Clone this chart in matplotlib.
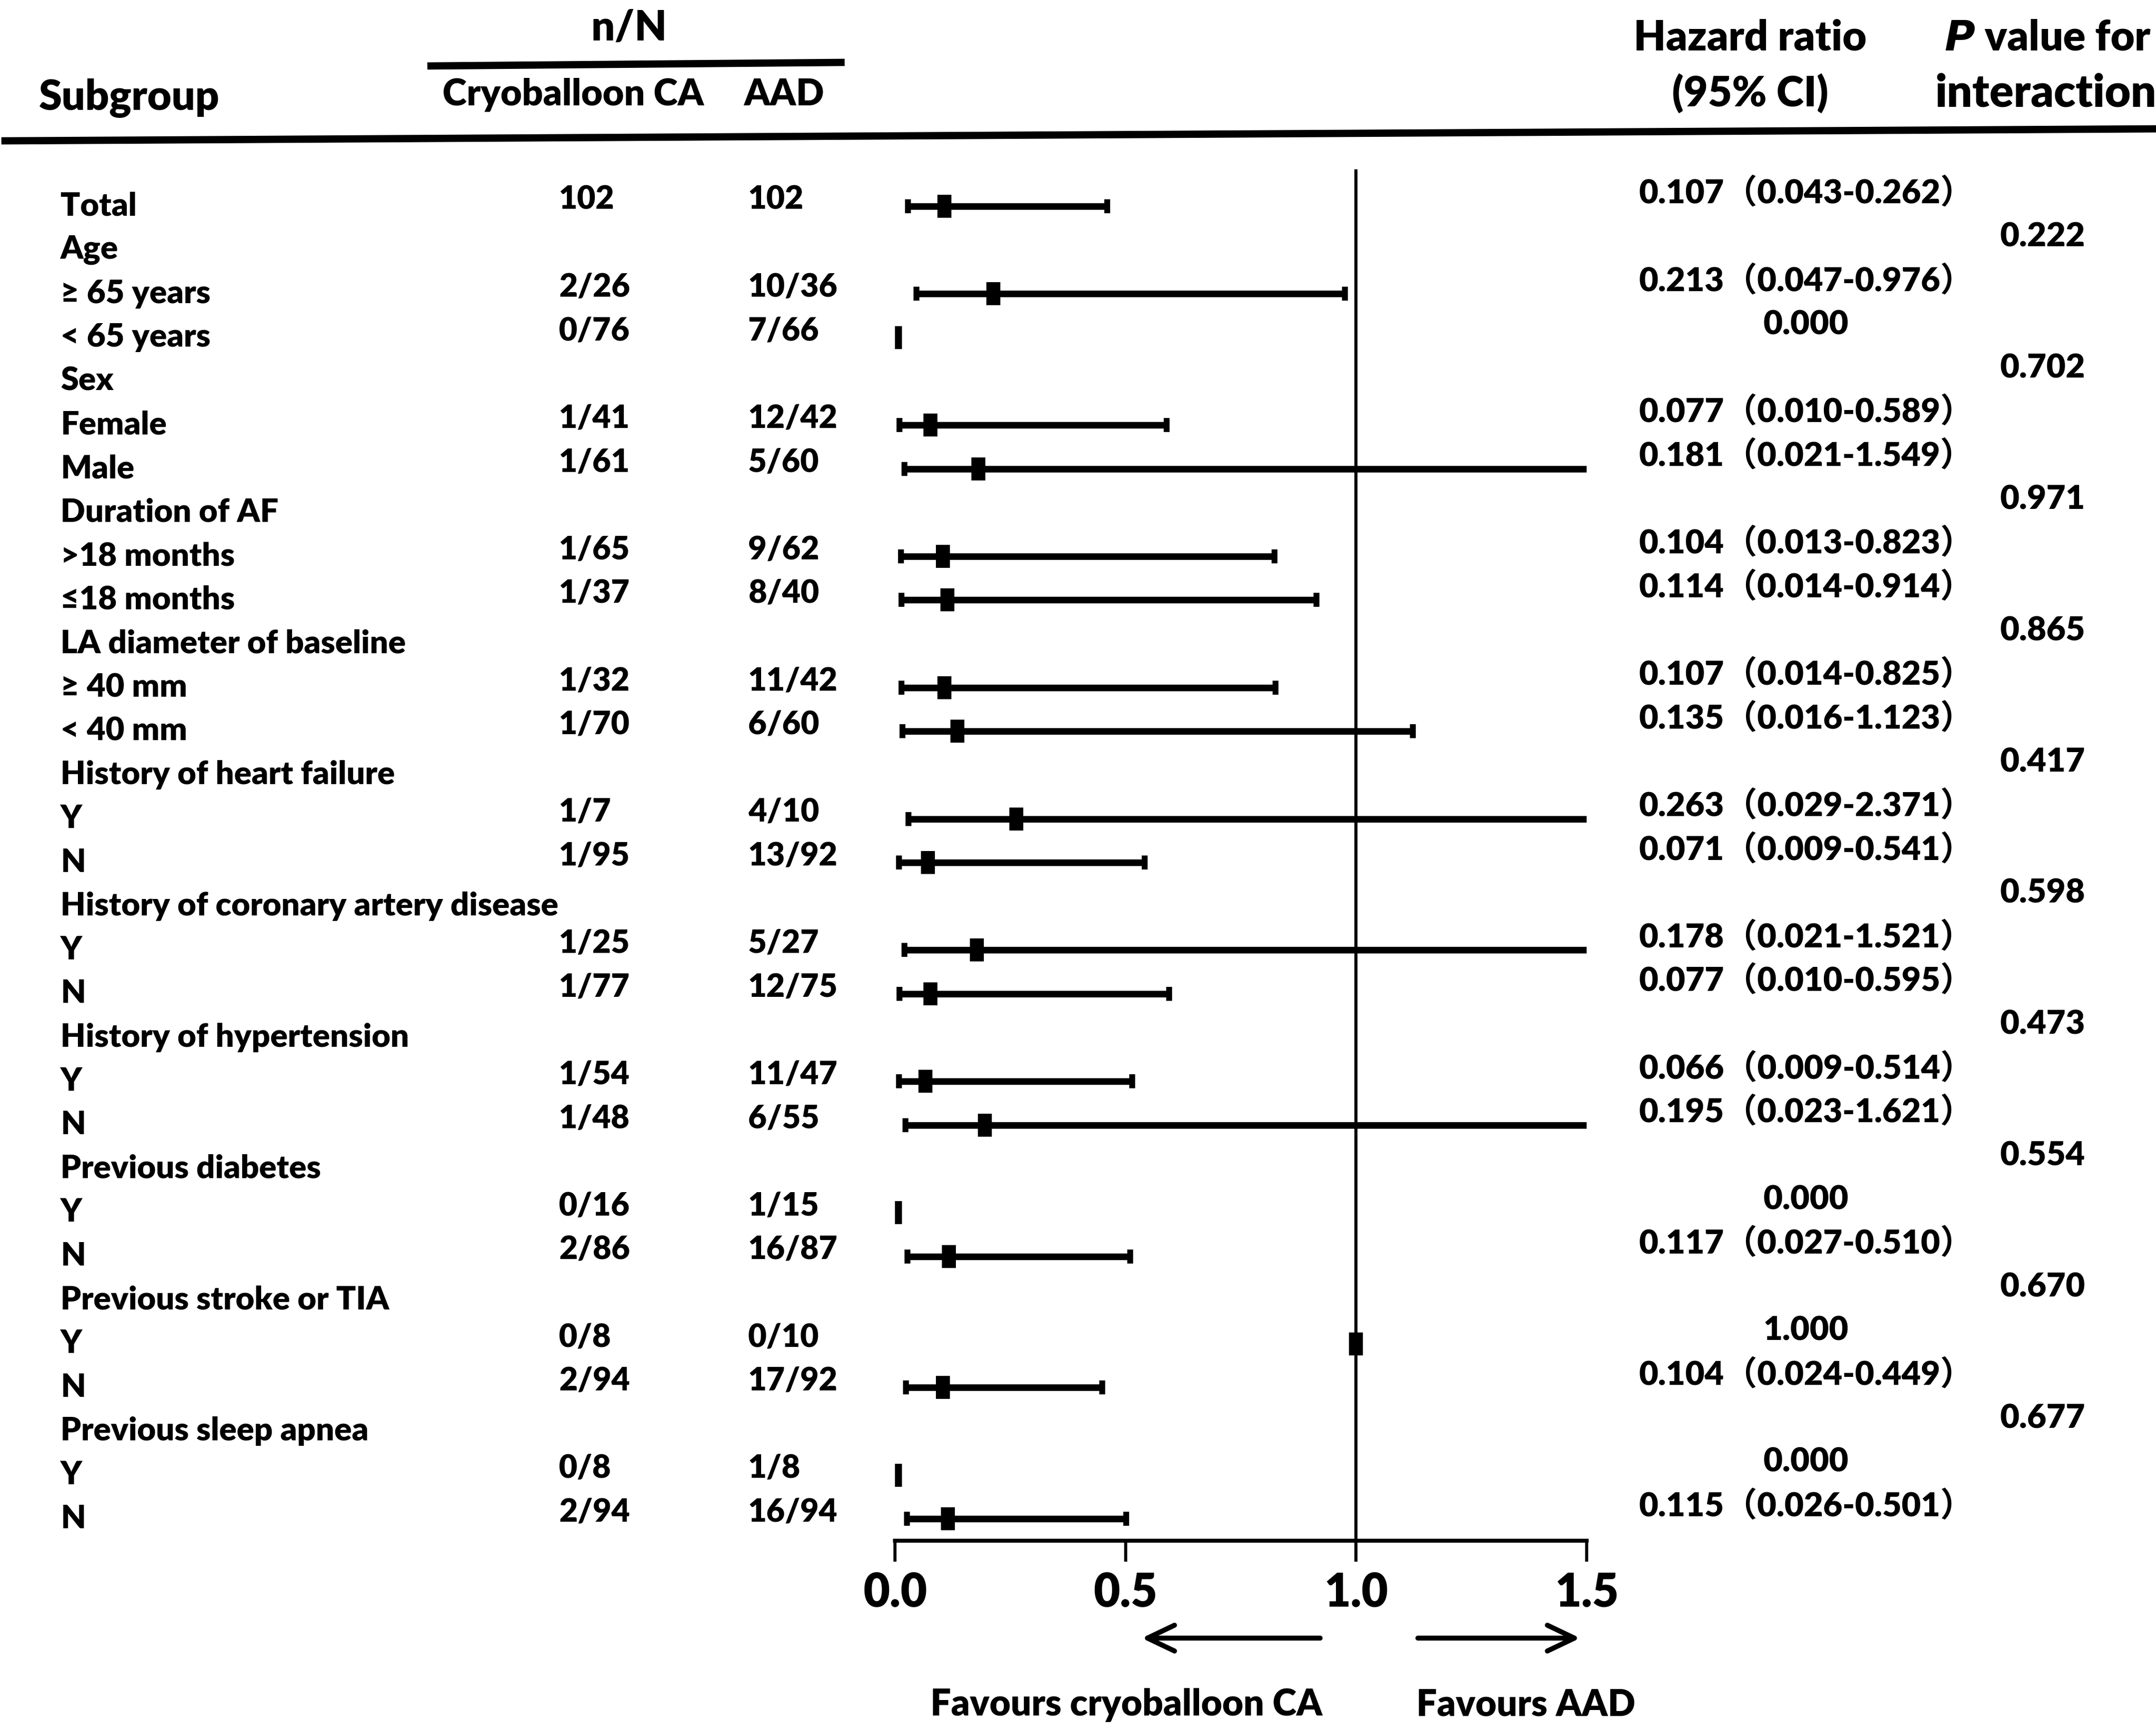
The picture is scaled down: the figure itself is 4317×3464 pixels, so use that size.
import matplotlib
matplotlib.use("Agg")
import matplotlib.pyplot as plt
import matplotlib.transforms as mtransforms
from matplotlib.lines import Line2D
import numpy as np

plt.rcParams['font.family'] = ['Lato', 'Noto Sans CJK SC', 'DejaVu Sans']
plt.rcParams['font.weight'] = 'heavy'

# ---- data ----
rows = ["Total", "Age", "≥ 65 years", "< 65 years", "Sex", "Female", "Male",
        "Duration of AF", ">18 months", "≤18 months", "LA diameter of baseline",
        "≥ 40 mm", "< 40 mm", "History of heart failure", "Y", "N",
        "History of coronary artery disease", "Y", "N", "History of hypertension",
        "Y", "N", "Previous diabetes", "Y", "N", "Previous stroke or TIA", "Y", "N",
        "Previous sleep apnea", "Y", "N"]
cryo = ["102", "", "2/26", "0/76", "", "1/41", "1/61", "", "1/65", "1/37", "",
        "1/32", "1/70", "", "1/7", "1/95", "", "1/25", "1/77", "", "1/54", "1/48",
        "", "0/16", "2/86", "", "0/8", "2/94", "", "0/8", "2/94"]
aad = ["102", "", "10/36", "7/66", "", "12/42", "5/60", "", "9/62", "8/40", "",
       "11/42", "6/60", "", "4/10", "13/92", "", "5/27", "12/75", "", "11/47", "6/55",
       "", "1/15", "16/87", "", "0/10", "17/92", "", "1/8", "16/94"]
hr = [0.107, None, 0.213, 0.0, None, 0.077, 0.181, None, 0.104, 0.114, None,
      0.107, 0.135, None, 0.263, 0.071, None, 0.178, 0.077, None, 0.066, 0.195,
      None, 0.0, 0.117, None, 1.0, 0.104, None, 0.0, 0.115]
ci_lo = [0.028, None, 0.047, None, None, 0.010, 0.021, None, 0.013, 0.014, None,
         0.014, 0.016, None, 0.029, 0.009, None, 0.021, 0.010, None, 0.009, 0.023,
         None, None, 0.027, None, None, 0.024, None, None, 0.026]
ci_hi = [0.460, None, 0.976, None, None, 0.589, 1.549, None, 0.823, 0.914, None,
         0.825, 1.123, None, 2.371, 0.541, None, 1.521, 0.595, None, 0.514, 1.621,
         None, None, 0.510, None, None, 0.449, None, None, 0.501]
hr_text = ["0.107（0.043-0.262）", "", "0.213（0.047-0.976）", "0.000", "",
           "0.077（0.010-0.589）", "0.181（0.021-1.549）", "",
           "0.104（0.013-0.823）", "0.114（0.014-0.914）", "",
           "0.107（0.014-0.825）", "0.135（0.016-1.123）", "",
           "0.263（0.029-2.371）", "0.071（0.009-0.541）", "",
           "0.178（0.021-1.521）", "0.077（0.010-0.595）", "",
           "0.066（0.009-0.514）", "0.195（0.023-1.621）", "",
           "0.000", "0.117（0.027-0.510）", "",
           "1.000", "0.104（0.024-0.449）", "",
           "0.000", "0.115（0.026-0.501）"]
p_rows = [1, 4, 7, 10, 13, 16, 19, 22, 25, 28]
p_values = ["0.222", "0.702", "0.971", "0.865", "0.417", "0.598", "0.473",
            "0.554", "0.670", "0.677"]
xticks = [0.0, 0.5, 1.0, 1.5]

W, H = 4317, 3464
fig = plt.figure(figsize=(W / 300, H / 300), dpi=300)

def fx(px):
    return px / W

def fy(py):
    return 1 - py / H

ax = fig.add_axes([fx(1792), fy(3085), fx(3177) - fx(1792), fy(339) - fy(3085)])
ax.set_xlim(0, 1.5)
ax.set_ylim(30.5, -0.845)
for s in ['top', 'left', 'right']:
    ax.spines[s].set_visible(False)
ax.spines['bottom'].set_linewidth(1.9)
ax.set_yticks([])
ax.set_xticks(xticks)
ax.set_xticklabels(["%.1f" % t for t in xticks], fontsize=22, fontweight='heavy')
ax.tick_params(axis='x', length=10, width=1.5, pad=5)

ax.axvline(1.0, color='black', lw=1.5)

rect = [(-0.3, -0.5), (0.3, -0.5), (0.3, 0.5), (-0.3, 0.5), (-0.3, -0.5)]
for i in range(len(rows)):
    if hr[i] is None:
        continue
    if ci_lo[i] is not None:
        ax.errorbar(hr[i], i, xerr=[[hr[i] - ci_lo[i]], [ci_hi[i] - hr[i]]],
                    fmt='none', ecolor='black', elinewidth=3.2,
                    capsize=3.4, capthick=2.8)
    ax.plot(hr[i], i, marker=rect, ms=11, color='black', mew=0, ls='none')

# text columns: x in figure pixels, y in row units
tr = mtransforms.blended_transform_factory(fig.transFigure, ax.transData)
for i, lab in enumerate(rows):
    fig.text(fx(121), i, lab, transform=tr, fontsize=15.6, va='center', ha='left')
    if cryo[i]:
        fig.text(fx(1119), i - 0.15, cryo[i], transform=tr, fontsize=15.4,
                 va='center', ha='left')
    if aad[i]:
        fig.text(fx(1498), i - 0.15, aad[i], transform=tr, fontsize=15.4,
                 va='center', ha='left')
    if hr_text[i]:
        if len(hr_text[i]) > 5:
            fig.text(fx(3282), i - 0.3, hr_text[i], transform=tr, fontsize=16,
                     va='center', ha='left')
        else:
            fig.text(fx(3616), i - 0.3, hr_text[i], transform=tr, fontsize=16,
                     va='center', ha='center')
for r, p in zip(p_rows, p_values):
    fig.text(fx(4090), r - 0.3, p, transform=tr, fontsize=16,
             va='center', ha='center')

# header
fig.text(fx(78), fy(196), "Subgroup", fontsize=20, va='center', ha='left')
fig.text(fx(1260), fy(56), "n/N", fontsize=20, va='center', ha='center')
fig.text(fx(1148), fy(190), "Cryoballoon CA", fontsize=17.7, va='center', ha='center')
fig.text(fx(1570), fy(190), "AAD", fontsize=17.7, va='center', ha='center')
fig.text(fx(3504), fy(76), "Hazard ratio", fontsize=20, va='center', ha='center')
fig.text(fx(3504), fy(187), "(95% CI)", fontsize=20, va='center', ha='center')
fig.text(fx(4100), fy(76), r"$\bf{\it{P}}$ value for", fontsize=20,
         va='center', ha='center')
fig.text(fx(4096), fy(187), "interaction", fontsize=21.5, va='center', ha='center')
fig.add_artist(Line2D([fx(863), fx(1684)], [fy(132), fy(125)], lw=3.5,
                      color='black'))
fig.add_artist(Line2D([fx(10), fx(4317)], [fy(282), fy(258)], lw=3.5,
                      color='black'))

# favours arrows and labels
ay = fy(3280)
ax.annotate('', xy=(0.535, ay), xytext=(0.922, ay),
            xycoords=('data', 'figure fraction'),
            textcoords=('data', 'figure fraction'),
            arrowprops=dict(arrowstyle='->,head_length=0.65,head_width=0.31',
                            lw=2.4, color='black', mutation_scale=20,
                            shrinkA=0, shrinkB=0))
ax.annotate('', xy=(1.486, ay), xytext=(1.134, ay),
            xycoords=('data', 'figure fraction'),
            textcoords=('data', 'figure fraction'),
            arrowprops=dict(arrowstyle='->,head_length=0.65,head_width=0.31',
                            lw=2.4, color='black', mutation_scale=20,
                            shrinkA=0, shrinkB=0))
fig.text(fx(2255), fy(3414), "Favours cryoballoon CA", fontsize=17.5,
         va='center', ha='center')
fig.text(fx(3055), fy(3414), "Favours AAD", fontsize=17.5, va='center', ha='center')

fig.savefig("out.png", dpi=300)
